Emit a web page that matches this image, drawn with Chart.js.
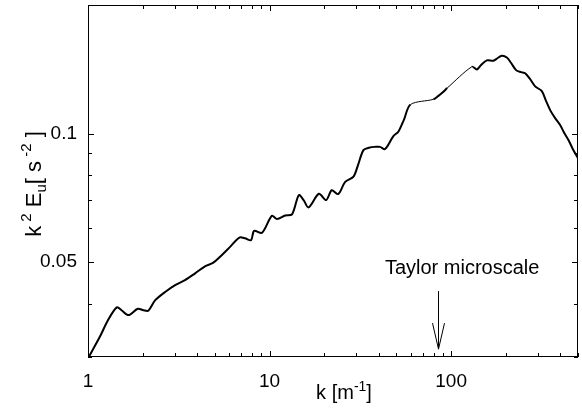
<!DOCTYPE html>
<html>
<head>
<meta charset="utf-8">
<script src="https://cdn.jsdelivr.net/npm/chart.js@4.4.1/dist/chart.umd.min.js"></script>
<style>
html, body { margin: 0; padding: 0; background: #fff; }
</style>
</head>
<body>
<canvas id="myChart" width="582" height="411"></canvas>
<script>
// wavenumber k [1/m] and compensated spectrum k^2 E_u [s^-2]
var kValues = [1.01, 1.16, 1.29, 1.44, 1.53, 1.67, 1.88, 2.02, 2.15, 2.34, 2.66, 3.02, 3.42, 3.89, 4.41, 4.88,
    5.34, 6.06, 6.82, 7.33, 7.91, 8.22, 9.09, 10.3, 11.0, 12.2, 13.3, 14.5, 15.4, 16.4, 18.7, 20.5, 22.0, 23.9,
    26.1, 29.0, 30.7, 32.9, 35.3, 38.1, 40.6, 43.3, 48.1, 51.2, 55.1, 59.8, 79.9, 84.8, 90.7, 95.1,
    130.1, 138.6, 146.3, 157.3, 171.1, 179.2, 190.2, 202.7, 214.1, 228.1, 243.1, 255.7, 272.4, 290.3,
    316.0, 333.8, 351.3, 374.1, 398.6, 419.4, 442.9, 467.1, 500];
var spectrumValues = [0.0300, 0.0334, 0.0366, 0.0392, 0.0386, 0.0376, 0.0389, 0.0386, 0.0385, 0.0407, 0.0426, 0.0442,
    0.0454, 0.0471, 0.0489, 0.0498, 0.0515, 0.0543, 0.0571, 0.0569, 0.0563, 0.0592, 0.0586, 0.0642, 0.0631, 0.0643,
    0.0647, 0.0718, 0.0699, 0.0672, 0.0723, 0.0699, 0.0737, 0.0722, 0.0771, 0.0793, 0.0844, 0.0915, 0.0927, 0.0931,
    0.0931, 0.0920, 0.0987, 0.101, 0.108, 0.117, 0.1203, 0.1224, 0.1253, 0.1278,
    0.1434, 0.1413, 0.1447, 0.1484, 0.1481, 0.1499, 0.1521, 0.1507, 0.1463, 0.1408, 0.1393, 0.1384, 0.1341, 0.1290,
    0.1257, 0.1191, 0.1135, 0.1087, 0.1047, 0.1005, 0.0966, 0.0922, 0.0875];

var xTickValues = [1, 10, 100];
var yTickValues = [0.05, 0.1];
var yMinorTicks = [0.03, 0.04, 0.05, 0.06, 0.07, 0.08, 0.09, 0.1, 0.2];

// Taylor microscale marker
var taylorK = 85;
var arrowTop = 0.0428;
var arrowTip = 0.0313;
var labelK = 115;
var labelY = 0.0469;

var FONT = '"Liberation Sans", Arial, Helvetica, sans-serif';

function drawPieces(ctx, pieces, cx, baseY) {
    var total = 0;
    pieces.forEach(function (p) {
        ctx.font = p.size + 'px ' + FONT;
        p.w = ctx.measureText(p.t).width;
        total += p.w;
    });
    var x = cx - total / 2;
    ctx.textAlign = 'left';
    ctx.textBaseline = 'alphabetic';
    pieces.forEach(function (p) {
        ctx.font = p.size + 'px ' + FONT;
        ctx.fillText(p.t, x, baseY + (p.dy || 0));
        x += p.w;
    });
}

var decorations = {
    id: 'decorations',
    afterDraw: function (chart) {
        var ctx = chart.ctx, a = chart.chartArea;
        var xs = chart.scales.x, ys = chart.scales.y;
        ctx.save();
        ctx.strokeStyle = '#000';
        ctx.fillStyle = '#000';
        ctx.lineWidth = 1;
        ctx.strokeRect(a.left + 0.5, a.top + 0.5, a.right - a.left - 1, a.bottom - a.top - 1);

        // inward ticks on x (bottom and top)
        ctx.beginPath();
        [1, 10, 100].forEach(function (d) {
            for (var m = 1; m <= 9; m++) {
                var v = d * m;
                if (v > 500) break;
                var px = Math.round(xs.getPixelForValue(v)) + 0.5;
                var len = m === 1 ? 6 : 4;
                ctx.moveTo(px, a.bottom); ctx.lineTo(px, a.bottom - len);
                ctx.moveTo(px, a.top); ctx.lineTo(px, a.top + len);
            }
        });
        // inward ticks on y (left and right)
        yMinorTicks.forEach(function (v) {
            var py = Math.round(ys.getPixelForValue(v)) + 0.5;
            var len = yTickValues.indexOf(v) >= 0 ? 6 : 4;
            ctx.moveTo(a.left, py); ctx.lineTo(a.left + len, py);
            ctx.moveTo(a.right, py); ctx.lineTo(a.right - len, py);
        });
        ctx.stroke();

        // Taylor microscale arrow
        var ax = Math.round(xs.getPixelForValue(taylorK)) + 0.5;
        var y0 = ys.getPixelForValue(arrowTop), y1 = ys.getPixelForValue(arrowTip);
        ctx.beginPath();
        ctx.moveTo(ax, y0); ctx.lineTo(ax, y1);
        ctx.moveTo(ax - 6, y1 - 26); ctx.lineTo(ax, y1); ctx.lineTo(ax + 6, y1 - 26);
        ctx.stroke();
        ctx.font = '20px ' + FONT;
        ctx.textAlign = 'center';
        ctx.textBaseline = 'alphabetic';
        ctx.fillText('Taylor microscale', xs.getPixelForValue(labelK), ys.getPixelForValue(labelY));

        // x axis title
        drawPieces(ctx, [
            { t: 'k [m', size: 20 },
            { t: '-1', size: 14, dy: -8 },
            { t: ']', size: 20 }
        ], 344, 399);

        // y axis title
        ctx.translate(41, 184);
        ctx.rotate(-Math.PI / 2);
        drawPieces(ctx, [
            { t: 'k', size: 22 },
            { t: ' 2', size: 15, dy: -10 },
            { t: ' E', size: 22 },
            { t: 'u', size: 15, dy: 5 },
            { t: '[ s', size: 22 },
            { t: ' -2', size: 15, dy: -10 },
            { t: ' ]', size: 22 }
        ], 0, 0);
        ctx.restore();
    }
};

var ctx = document.getElementById('myChart').getContext('2d');
var myChart = new Chart(ctx, {
    type: 'line',
    data: {
        datasets: [{
            data: kValues.map(function (k, i) { return { x: k, y: spectrumValues[i] }; }),
            borderColor: '#000',
            borderWidth: 2,
            pointRadius: 0,
            tension: 0.3,
            fill: false,
            segment: {
                // straight thin lines across the gaps in the data
                borderWidth: function (c) { return c.p1.parsed.x / c.p0.parsed.x > 1.2 ? 1 : 2; }
            }
        }]
    },
    options: {
        responsive: false,
        animation: false,
        layout: { padding: { top: 5, right: 4, left: 0, bottom: 0 } },
        plugins: { legend: { display: false }, tooltip: { enabled: false } },
        scales: {
            x: {
                type: 'logarithmic',
                min: 1,
                max: 500,
                grid: { display: false, drawTicks: false },
                border: { display: false },
                afterBuildTicks: function (s) { s.ticks = xTickValues.map(function (v) { return { value: v }; }); },
                afterFit: function (s) { s.height = 54; s.paddingLeft = 0; s.paddingRight = 0; },
                ticks: {
                    autoSkip: false, maxRotation: 0, padding: 13, color: '#000',
                    font: { size: 19, family: FONT },
                    callback: function (v) { return String(v); }
                }
            },
            y: {
                type: 'logarithmic',
                min: 0.03,
                max: 0.2,
                grid: { display: false, drawTicks: false },
                border: { display: false },
                afterBuildTicks: function (s) { s.ticks = yTickValues.map(function (v) { return { value: v }; }); },
                afterFit: function (s) { s.width = 88; s.paddingTop = 0; s.paddingBottom = 0; },
                ticks: {
                    autoSkip: false, padding: 11, color: '#000',
                    font: { size: 19, family: FONT },
                    callback: function (v) { return String(v); }
                }
            }
        }
    },
    plugins: [decorations]
});
</script>
</body>
</html>
